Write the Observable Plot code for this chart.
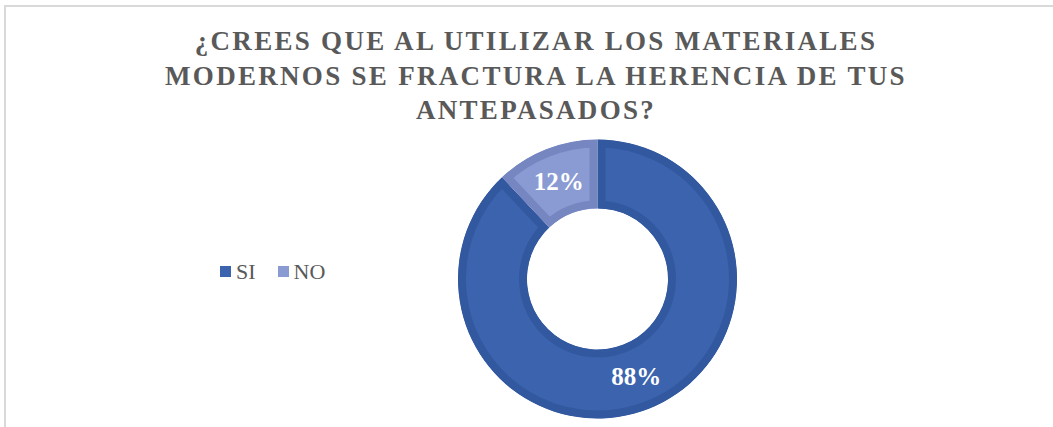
<!DOCTYPE html>
<html><head><meta charset="utf-8">
<script src="https://cdn.jsdelivr.net/npm/d3@7"></script>
<script src="https://cdn.jsdelivr.net/npm/@observablehq/plot@0.6"></script>
<style>
body{margin:0;background:#fff;}
#wrap{position:relative;width:1053px;height:427px;overflow:hidden;font-family:"Liberation Serif","Times New Roman",serif;}
#frame{position:absolute;left:4px;top:5px;right:-5px;bottom:-5px;border-top:2px solid #d9d9d9;border-left:2px solid #d9d9d9;}
#title{position:absolute;left:0;width:1072px;top:24px;text-align:center;font-weight:bold;font-size:27px;line-height:34.5px;color:#595959;letter-spacing:2.3px;}
#chart{position:absolute;left:0;top:130px;}
#legend{position:absolute;left:220px;top:255px;}
#legend, #legend *{font-size:22px !important;font-family:"Liberation Serif","Times New Roman",serif !important;color:#595959 !important;}
#legend svg{margin-right:5px !important;}
#legend span{margin-right:22px !important;}
</style></head>
<body>
<div id="wrap">
  <div id="frame"></div>
  <div id="title">¿CREES QUE AL UTILIZAR LOS MATERIALES<br>MODERNOS SE FRACTURA LA HERENCIA DE TUS<br>ANTEPASADOS?</div>
  <div id="legend"></div>
  <div id="chart"></div>
</div>
<script>
const categories = ["SI", "NO"];
const values = [88, 12];
const labels = ["88%", "12%"];
const fillColors = ["#3c63ad", "#8a9bd3"];
const bandColors = ["#3258a0", "#7686c1"];

const data = categories.map((c, i) => ({cat: c, value: values[i], label: labels[i], band: bandColors[i]}));

const cx = 597.5, cy = 149, rOuter = 139.5, rInner = 70.5, band = 8;

function donut(index, scales, channels, dimensions, context) {
  const color = scales.color;
  const pie = d3.pie().sort(null).value(d => d.value)(data);
  const arc = d3.arc().innerRadius(rInner).outerRadius(rOuter);
  const g = d3.create("svg:g").attr("transform", `translate(${cx},${cy})`);
  const slices = g.selectAll("g.slice").data(pie).join("g").attr("class", "slice");
  slices.append("clipPath").attr("id", (d, i) => "clip" + i)
    .append("path").attr("d", arc);
  slices.append("path").attr("d", arc)
    .attr("fill", d => color(d.data.cat))
    .attr("stroke", d => d.data.band)
    .attr("stroke-width", band * 2)
    .attr("clip-path", (d, i) => `url(#clip${i})`);
  g.selectAll("text").data(pie).join("text")
    .attr("transform", d => `translate(${arc.centroid(d)})`)
    .attr("text-anchor", "middle")
    .attr("dy", "0.34em")
    .attr("fill", "white")
    .attr("font-family", "'Liberation Serif', 'Times New Roman', serif")
    .attr("font-weight", "bold")
    .attr("font-size", 25)
    .text(d => d.data.label);
  return g.node();
}

const chart = Plot.plot({
  width: 1053,
  height: 297,
  margin: 0,
  style: {background: "transparent", overflow: "visible"},
  color: {domain: categories, range: fillColors},
  marks: [
    Plot.dot(data, {fill: "cat", r: 0, fillOpacity: 0}),
    donut
  ]
});
document.getElementById("chart").appendChild(chart);

const legend = Plot.legend({
  color: {domain: categories, range: fillColors},
  swatchSize: 11,
  style: {background: "transparent"}
});
document.getElementById("legend").appendChild(legend);
</script>
</body></html>
